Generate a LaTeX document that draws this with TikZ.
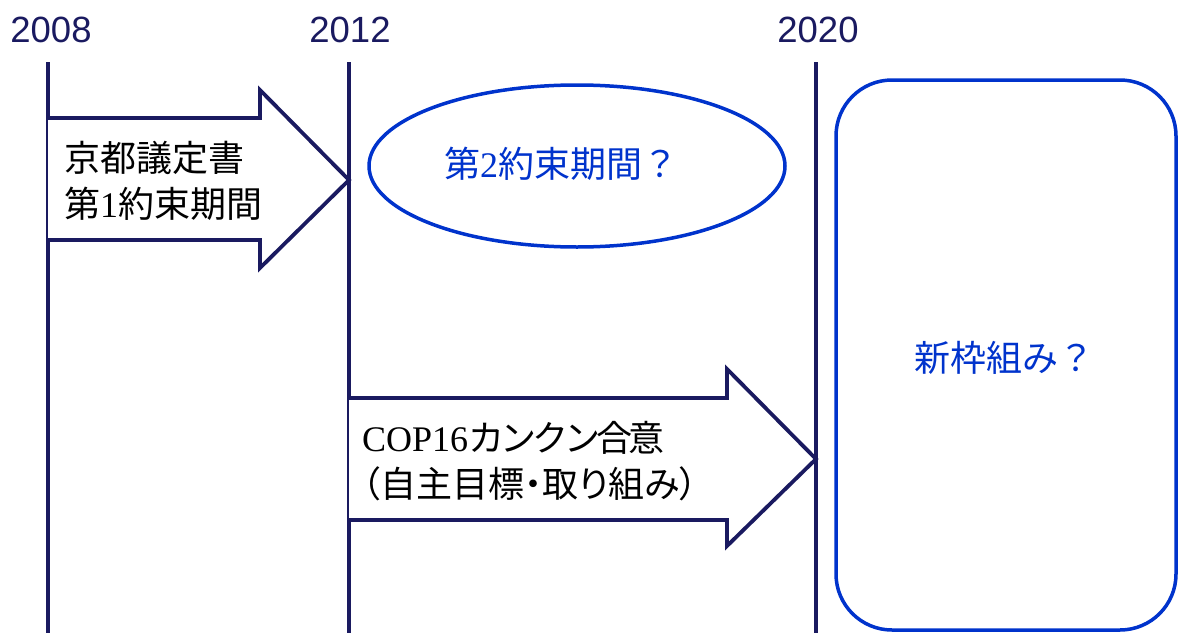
\documentclass[tikz,border=0pt]{standalone}
\usepackage{fontspec}
\setmainfont{Liberation Serif}
\newfontfamily\yearfont{Liberation Sans}
\newfontfamily\jp{Noto Sans CJK JP}
\newfontfamily\jpp[RawFeature=+palt]{Noto Sans CJK JP}
\newfontfamily\jpn[LetterSpace=-11]{Noto Sans CJK JP}
\definecolor{navy}{RGB}{26,26,96}
\definecolor{bblue}{RGB}{0,51,204}
\tikzset{
  tline/.style={draw=navy, line width=3.8pt},
  yearlbl/.style={font=\yearfont\fontsize{36.5}{40}\selectfont, text=navy, inner sep=0pt},
  arrowshape/.style={draw=navy, line width=3.8pt, fill=white, line join=miter},
  jtext/.style={font=\fontsize{36}{46}\selectfont, align=left, inner sep=0pt, anchor=west},
  bluetext/.style={font=\fontsize{36}{40}\selectfont, text=bblue, inner sep=0pt},
  blueshape/.style={draw=bblue, line width=3.5pt},
}
\begin{document}
\begin{tikzpicture}[x=1pt,y=-1pt]
\useasboundingbox (0,0) rectangle (1178,632);
% year labels
\node[yearlbl] (y2008) at (51,30) {2008};
\node[yearlbl] (y2012) at (350,30) {2012};
\node[yearlbl] (y2020) at (818,30) {2020};
% timeline vertical lines
\coordinate (t1) at (48,62); \coordinate (b1) at (48,634);
\coordinate (t2) at (349,62); \coordinate (b2) at (349,634);
\coordinate (t3) at (816,62); \coordinate (b3) at (816,634);
\draw[tline] (t1) -- (b1);
\draw[tline] (t2) -- (b2);
\draw[tline] (t3) -- (b3);
% arrow 1
\draw[arrowshape] (48,118) -- (260,118) -- (260,90) -- (349,180) -- (260,268) -- (260,240) -- (48,240);
\node[jtext] (kyoto) at (64,181) {{\jp 京都議定書}\\{\jp 第}1{\jp 約束期間}};
% arrow 2
\draw[arrowshape] (349,398) -- (727,398) -- (727,369) -- (816,459) -- (727,546) -- (727,520) -- (349,520);
\node[jtext] (cop) at (362,461) {COP16{\jpn カンクン合意}\\{\jpp （自主目標・取り組み）}};
% ellipse
\draw[blueshape] (577,166) ellipse [x radius=208, y radius=81];
\node[bluetext] (second) at (561,164) {{\jp 第}2{\jp 約束期間？}};
% rounded rectangle
\draw[blueshape, rounded corners=56pt] (836,80) rectangle (1176,630);
\node[bluetext] (newfw) at (1004,358) {\jp 新枠組み？};
\end{tikzpicture}
\end{document}
